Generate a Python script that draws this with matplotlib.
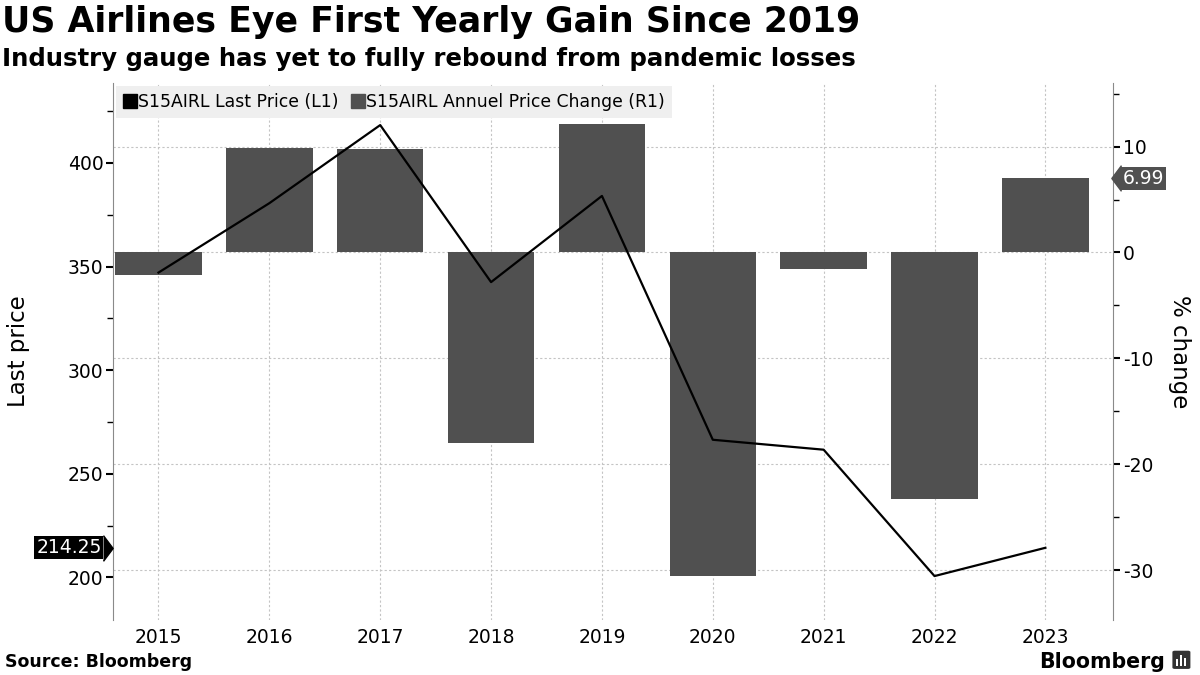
import numpy as np
import matplotlib.pyplot as plt
import matplotlib.transforms as mtransforms
from matplotlib.lines import Line2D
from matplotlib.patches import FancyBboxPatch, Rectangle
from matplotlib.ticker import MultipleLocator

plt.rcParams["axes.unicode_minus"] = False

# chart data
years = [2015, 2016, 2017, 2018, 2019, 2020, 2021, 2022, 2023]
last_price = [347.1, 380.6, 418.3, 342.5, 384.1, 266.4, 261.6, 200.6, 214.25]
pct_change = [-2.1, 9.9, 9.8, -18.0, 12.1, -30.5, -1.6, -23.3, 6.99]

price_label = "S15AIRL Last Price (L1)"
change_label = "S15AIRL Annuel Price Change (R1)"

bar_color = "#505050"
grid_color = "#c4c4c4"
spine_color = "#8a8a8a"

fig = plt.figure(figsize=(12, 6.75), dpi=100)
ax = fig.add_axes([0.0942, 0.0815, 0.8333, 0.7955])   # bars, right scale
ax2 = ax.twinx()                                      # price line, left scale

# bars on the right hand (% change) axis
ax.bar(years, pct_change, width=0.78, color=bar_color, zorder=2)
ax.set_xlim(2014.59, 2023.61)
ax.set_ylim(-34.7, 16.0)
ax.yaxis.tick_right()
ax.yaxis.set_label_position("right")
ax.yaxis.set_major_locator(MultipleLocator(10))
ax.yaxis.set_minor_locator(MultipleLocator(5))
ax.set_axisbelow(True)
ax.grid(True, which="major", axis="both", color=grid_color, ls=(0, (2, 2)), lw=0.8)
ax.set_xticks(years)
ax.set_xticklabels([str(y) for y in years])
ax.tick_params(axis="x", length=0, labelsize=13.5, pad=6)
ax.tick_params(axis="y", which="major", direction="out", length=5, width=1.5,
               labelsize=13.5, pad=2, colors="black")
ax.tick_params(axis="y", which="minor", direction="out", length=4, width=1, colors="black")
ax.set_ylabel("% change", fontsize=16.5, rotation=270, labelpad=27)
for s in ["top", "bottom", "left"]:
    ax.spines[s].set_visible(False)
ax.spines["right"].set_color(spine_color)

# price line on the left hand axis
ax2.plot(years, last_price, color="black", lw=1.6, zorder=3)
ax2.set_ylim(179.4, 438.6)
ax2.yaxis.tick_left()
ax2.yaxis.set_label_position("left")
ax2.yaxis.set_major_locator(MultipleLocator(50))
ax2.yaxis.set_minor_locator(MultipleLocator(25))
ax2.tick_params(axis="y", which="major", direction="out", length=5, width=1.5,
                labelsize=13.5, pad=2, colors="black")
ax2.tick_params(axis="y", which="minor", direction="out", length=4, width=1, colors="black")
ax2.set_ylabel("Last price", fontsize=16.5, labelpad=27)
for s in ["top", "bottom", "right"]:
    ax2.spines[s].set_visible(False)
ax2.spines["left"].set_color(spine_color)

# legend
handles = [
    Line2D([], [], ls="none", marker="s", ms=9.5, color="black"),
    Line2D([], [], ls="none", marker="s", ms=9.5, color=bar_color),
]
leg = ax2.legend(handles, [price_label, change_label], loc="upper left",
                 bbox_to_anchor=(0, 1.0), ncol=2, fontsize=12.4, frameon=True,
                 fancybox=False, facecolor="#efefef", edgecolor="none", framealpha=1,
                 handlelength=0.8, handletextpad=0.1, columnspacing=0.7,
                 borderaxespad=0.15, borderpad=0.42)
leg.set_zorder(10)

# last value tags
head = [(0, -1), (0.75, 0), (0, 1)]
left_tr = mtransforms.blended_transform_factory(ax2.transAxes, ax2.transData)
ax2.plot([0], [last_price[-1]], ls="none", marker=head, ms=18.5, color="black",
         clip_on=False, zorder=11,
         transform=left_tr + mtransforms.ScaledTranslation(-6.9 / 72, 0, fig.dpi_scale_trans))
ax2.annotate(f"{last_price[-1]:.2f}", xy=(0, last_price[-1]), xycoords=left_tr,
             xytext=(-8.3, 0), textcoords="offset points", ha="right", va="center",
             color="white", fontsize=13.5, annotation_clip=False, zorder=11,
             bbox=dict(boxstyle="square,pad=0.1", fc="black", ec="none"))

right_tr = mtransforms.blended_transform_factory(ax.transAxes, ax.transData)
head_l = [(0, -1), (-0.75, 0), (0, 1)]
ax.plot([1], [pct_change[-1]], ls="none", marker=head_l, ms=18.5, color=bar_color,
        clip_on=False, zorder=11,
        transform=right_tr + mtransforms.ScaledTranslation(5.5 / 72, 0, fig.dpi_scale_trans))
ax.annotate(f"{pct_change[-1]:.2f}", xy=(1, pct_change[-1]), xycoords=right_tr,
            xytext=(6.9, 0), textcoords="offset points", ha="left", va="center",
            color="white", fontsize=13.5, annotation_clip=False, zorder=11,
            bbox=dict(boxstyle="square,pad=0.1", fc=bar_color, ec="none"))

# titles and footer
fig.text(0.002, 0.992, "US Airlines Eye First Yearly Gain Since 2019", ha="left", va="top",
         fontsize=25, fontweight="bold")
fig.text(0.002, 0.93, "Industry gauge has yet to fully rebound from pandemic losses",
         ha="left", va="top", fontsize=17.6, fontweight="bold")
fig.text(0.004, 0.019, "Source: Bloomberg", ha="left", va="center", fontsize=12.5,
         fontweight="bold")
fig.text(0.971, 0.02, "Bloomberg", ha="right", va="center", fontsize=14.8, fontweight="bold")

# small logo mark next to the wordmark
fig.patches.append(FancyBboxPatch((0.977, 0.009), 0.015, 0.027,
                                  boxstyle="round,pad=0,rounding_size=0.002",
                                  transform=fig.transFigure, fc="#333333", ec="none"))
for i, h in enumerate([0.009, 0.016, 0.011]):
    fig.patches.append(Rectangle((0.9797 + i * 0.0034, 0.014), 0.0018, h,
                                 transform=fig.transFigure, fc="white", ec="none"))

fig.savefig("out.png", dpi=100)
